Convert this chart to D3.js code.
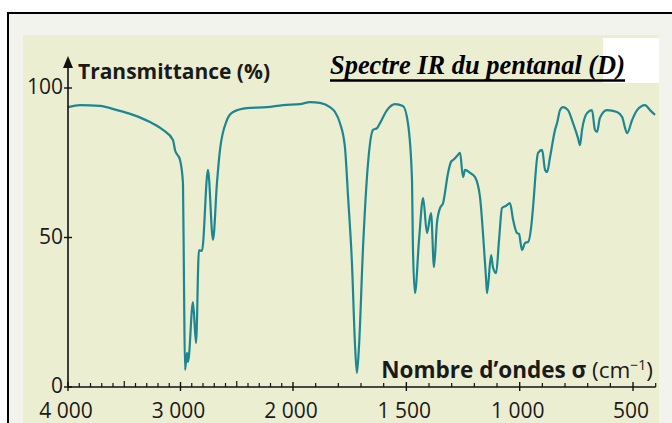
<!DOCTYPE html>
<html>
<head>
<meta charset="utf-8">
<script src="https://cdn.jsdelivr.net/npm/d3@7"></script>
<style>
  html, body { margin: 0; padding: 0; background: #fff; }
  svg { display: block; }
</style>
</head>
<body>
<div id="chart"></div>
<script>
// spectrum: wavenumber (cm-1) and transmittance (%)
const wavenumbers = [
  4000, 3893, 3716, 3564, 3422, 3271, 3156, 3067, 3049, 3004, 2978, 2969,
  2960, 2942, 2933, 2889, 2862, 2836, 2809, 2756, 2711, 2676, 2649, 2587,
  2533, 2409, 2231, 2089, 1969, 1925, 1881, 1837, 1815, 1793, 1771, 1757,
  1740, 1726, 1718, 1709, 1691, 1669, 1647, 1629, 1616, 1585, 1550, 1515,
  1493, 1475, 1471, 1462, 1444, 1426, 1409, 1391, 1378, 1365, 1351, 1338,
  1316, 1303, 1294, 1276, 1263, 1250, 1241, 1219, 1197, 1175, 1162, 1148,
  1144, 1126, 1118, 1104, 1091, 1078, 1060, 1043, 1029, 1012, 1003, 990,
  976, 963, 946, 941, 919, 901, 888, 879, 866, 844, 835, 822,
  809, 787, 765, 743, 734, 725, 703, 681, 668, 659, 646, 615,
  571, 548, 535, 526, 504, 482, 447, 425, 403
];
const transmittance = [
  93.6, 94.3, 94.0, 92.6, 91.0, 88.6, 86.0, 82.6, 79.3, 75.9, 68.2, 34.8,
  5.7, 11.4, 8.4, 28.4, 14.7, 45.8, 45.5, 72.6, 49.2, 68.2, 79.3, 89.3,
  92.0, 93.3, 93.6, 94.3, 94.6, 95.3, 95.0, 93.6, 92.0, 88.3, 80.3, 63.5,
  41.5, 13.4, 4.7, 13.4, 46.8, 74.9, 86.0, 86.6, 88.3, 92.6, 94.6, 94.0,
  88.3, 69.2, 46.8, 31.4, 49.2, 63.2, 51.5, 58.2, 40.1, 54.8, 59.9, 61.5,
  71.6, 75.3, 75.9, 77.3, 78.3, 70.2, 72.6, 71.6, 70.2, 63.5, 51.5, 35.8,
  31.4, 44.1, 40.1, 38.1, 49.2, 59.9, 60.6, 61.5, 55.9, 51.5, 51.2, 45.8,
  48.2, 48.5, 55.9, 60.2, 78.3, 79.3, 72.6, 71.9, 76.9, 86.0, 88.3, 92.6,
  93.6, 92.6, 88.3, 83.3, 80.9, 86.0, 91.6, 92.6, 86.0, 85.3, 90.0, 92.6,
  92.0, 90.3, 86.6, 84.9, 89.3, 92.6, 94.3, 92.6, 91.0
];

const xTickValues = [4000, 3000, 2000, 1500, 1000, 500];
const xHalfTicks = [3500, 2500];
const yTickValues = [0, 50, 100];

const W = 672, H = 423;
const teal = '#1d8791';
const fontSans = '"Open Sans", "Noto Sans", sans-serif';

const frLocale = d3.formatLocale({ decimal: ',', thousands: ' ', grouping: [3], currency: ['', ''] });
const fmt = frLocale.format(',');

const svg = d3.select('#chart').append('svg')
    .attr('width', W)
    .attr('height', H);

// the IR scale changes at 2000 cm-1
const x = d3.scaleLinear()
    .domain([4000, 2000, 400])
    .range([68, 293, 655.7]);

const y = d3.scaleLinear()
    .domain([0, 100])
    .range([387, 88]);

function drawPaper() {
    svg.append('rect')
        .attr('x', 8).attr('y', 13)
        .attr('width', W - 8).attr('height', H - 13)
        .attr('fill', '#f3f3ee');

    svg.append('rect')
        .attr('x', 23).attr('y', 35)
        .attr('width', 636).attr('height', H - 35)
        .attr('fill', '#eceed2');

    // border of the scan
    svg.append('line')
        .attr('x1', 7).attr('x2', W)
        .attr('y1', 13).attr('y2', 13)
        .attr('stroke', '#000').attr('stroke-width', 2);

    svg.append('line')
        .attr('x1', 8).attr('x2', 8)
        .attr('y1', 13).attr('y2', H)
        .attr('stroke', '#000').attr('stroke-width', 2);
}

function drawTitle() {
    svg.append('rect')
        .attr('x', 603).attr('y', 38)
        .attr('width', 56).attr('height', 45)
        .attr('fill', '#fff');

    svg.append('text')
        .text('Spectre IR du pentanal (D)')
        .attr('x', 330)
        .attr('y', 74)
        .attr('textLength', 295)
        .attr('lengthAdjust', 'spacingAndGlyphs')
        .style('font-family', '"Liberation Serif", "Times New Roman", serif')
        .style('font-weight', 'bold')
        .style('font-style', 'italic')
        .style('font-size', '27px')
        .attr('fill', '#000');

    svg.append('line')
        .attr('x1', 330).attr('x2', 625)
        .attr('y1', 80.5).attr('y2', 80.5)
        .attr('stroke', '#000').attr('stroke-width', 2.5);
}

function drawAxes() {
    const g = svg.append('g')
        .attr('stroke', '#111')
        .attr('fill', 'none');

    g.append('line')
        .attr('x1', x(4000)).attr('x2', x(4000))
        .attr('y1', y(0)).attr('y2', 64)
        .attr('stroke-width', 1.6);

    g.append('path')
        .attr('d', `M${x(4000)},56 L${x(4000) - 5},68 L${x(4000) + 5},68 Z`)
        .attr('fill', '#111')
        .attr('stroke', 'none');

    g.append('line')
        .attr('x1', x(4000)).attr('x2', x(400))
        .attr('y1', y(0)).attr('y2', y(0))
        .attr('stroke-width', 1.6);

    // minor ticks every 100 cm-1
    const minor = d3.range(3900, 399, -100).filter(d => xTickValues.indexOf(d) < 0);
    g.selectAll('.minor')
        .data(minor)
        .join('line')
        .attr('class', 'minor')
        .attr('x1', d => x(d)).attr('x2', d => x(d))
        .attr('y1', y(0)).attr('y2', d => y(0) - (xHalfTicks.indexOf(d) >= 0 ? 6 : 4))
        .attr('stroke-width', 1.2);

    g.selectAll('.major')
        .data(xTickValues)
        .join('line')
        .attr('class', 'major')
        .attr('x1', d => x(d)).attr('x2', d => x(d))
        .attr('y1', y(0) + 4).attr('y2', y(0) - 5)
        .attr('stroke-width', 1.4);

    g.selectAll('.ytick')
        .data(yTickValues)
        .join('line')
        .attr('class', 'ytick')
        .attr('x1', x(4000) - 4).attr('x2', x(4000) + 4)
        .attr('y1', d => y(d)).attr('y2', d => y(d))
        .attr('stroke-width', 1.4);

    svg.selectAll('.xlabel')
        .data(xTickValues)
        .join('text')
        .attr('class', 'xlabel')
        .text(d => fmt(d))
        .attr('x', d => x(d) - 2)
        .attr('y', 418)
        .attr('text-anchor', 'middle')
        .attr('fill', '#1a1a1a')
        .style('font-family', fontSans)
        .style('font-size', '21px');

    svg.selectAll('.ylabel')
        .data(yTickValues)
        .join('text')
        .attr('class', 'ylabel')
        .text(d => d)
        .attr('x', x(4000) - 5)
        .attr('y', d => y(d) + 6)
        .attr('text-anchor', 'end')
        .attr('fill', '#1a1a1a')
        .style('font-family', fontSans)
        .style('font-size', '21px');

    svg.append('text')
        .text('Transmittance (%)')
        .attr('x', 78)
        .attr('y', 79)
        .attr('textLength', 192)
        .attr('lengthAdjust', 'spacingAndGlyphs')
        .attr('fill', '#1a1a1a')
        .style('font-family', fontSans)
        .style('font-weight', 'bold')
        .style('font-size', '21px');

    const xt = svg.append('text')
        .attr('x', 653)
        .attr('y', 378)
        .attr('text-anchor', 'end')
        .attr('fill', '#1a1a1a')
        .style('font-family', fontSans)
        .style('font-size', '22.5px');

    xt.append('tspan').text('Nombre d\u2019ondes \u03c3 ').style('font-weight', 'bold');
    xt.append('tspan').text('(cm');
    xt.append('tspan').text('\u22121').attr('dy', -8).style('font-size', '14px');
    xt.append('tspan').text(')').attr('dy', 8);
}

function drawSpectrum() {
    const points = wavenumbers.map((w, i) => [w, transmittance[i]]);

    const line = d3.line()
        .x(d => x(d[0]))
        .y(d => y(d[1]))
        .curve(d3.curveMonotoneX);

    svg.append('path')
        .datum(points)
        .attr('d', line)
        .attr('fill', 'none')
        .attr('stroke', teal)
        .attr('stroke-width', 2.2)
        .attr('stroke-linejoin', 'round');
}

drawPaper();
drawTitle();
drawSpectrum();
drawAxes();
</script>
</body>
</html>
